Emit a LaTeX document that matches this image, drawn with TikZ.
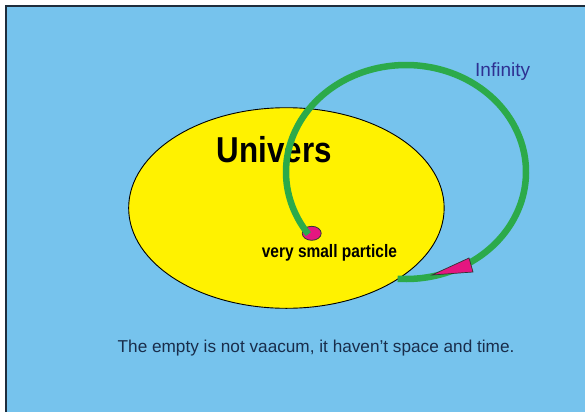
\documentclass[tikz,border=0pt]{standalone}
\usepackage{fontspec}
\setmainfont{Liberation Sans}
\usetikzlibrary{shapes.geometric}
\definecolor{skyblue}{RGB}{118,195,237}
\definecolor{frameline}{RGB}{30,45,60}
\definecolor{univyellow}{RGB}{255,242,0}
\definecolor{loopgreen}{RGB}{44,170,74}
\definecolor{pinkfill}{RGB}{228,22,128}
\definecolor{infblue}{RGB}{46,49,146}
\definecolor{navytext}{RGB}{25,45,75}
\tikzset{
  txt/.style={inner sep=0pt, anchor=base west},
  boldlabel/.style={txt, text=black, font=\bfseries},
  universe/.style={ellipse, draw=black, line width=0.9pt, fill=univyellow, inner sep=0pt},
  particle/.style={ellipse, draw=black!80, line width=0.8pt, fill=pinkfill, inner sep=0pt},
  loop/.style={draw=loopgreen, line width=6.5pt, line cap=butt},
  arrowhead/.style={fill=pinkfill, draw=black!80, line width=0.7pt, line join=miter}
}
\begin{document}
\begin{tikzpicture}[x=1pt,y=-1pt]
\useasboundingbox (0,0) rectangle (585,412);
\fill[white] (0,0) rectangle (585,412);
\fill[skyblue] (6,6) rectangle (585,412);
\draw[frameline, line width=1.6pt] (6,412) -- (6,6) -- (585,6);
% universe
\node[universe, minimum width=315.5pt, minimum height=200.6pt] (univ) at (286.4,208) {};
\node[boldlabel, xscale=0.87] (univlabel) at (216.7,162.7) {\fontsize{36}{40}\selectfont Univers};
\node[boldlabel, xscale=0.86] (partlabel) at (261.7,257) {\fontsize{18}{20}\selectfont very small particle};
\node[particle, minimum width=19pt, minimum height=14pt] (part) at (311.7,233.3) {};
% infinity loop
\draw[loop] plot[domain=215.5:-94, samples=150] ({406+120*cos(\x)}, {172-107*sin(\x)});
\coordinate (tip) at (432,275);
\coordinate (baseA) at (469,258);
\coordinate (baseB) at (473,272);
\draw[arrowhead] (tip) -- (baseA) -- (baseB) -- cycle;
\node[txt, text=infblue] (inf) at (475,76) {\fontsize{19}{22}\selectfont Infinity};
\node[txt, text=navytext] (note) at (117.5,352) {\fontsize{17.2}{20}\selectfont The empty is not vaacum, it haven’t space and time.};
\end{tikzpicture}
\end{document}
